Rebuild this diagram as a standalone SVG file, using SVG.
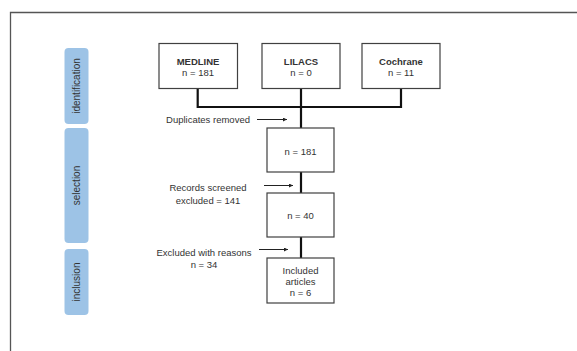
<svg xmlns="http://www.w3.org/2000/svg" width="577" height="351" viewBox="0 0 577 351">
<defs>
<marker id="arr" viewBox="0 0 6 6" refX="6" refY="3" markerWidth="4" markerHeight="4" orient="auto" markerUnits="userSpaceOnUse">
<path d="M0,0 L6,3 L0,6 z" fill="#222"/>
</marker>
<style>
.box{fill:#fff;stroke:#404040;stroke-width:1.2}
.tab{fill:#9dc3e6}
.t{font-family:"Liberation Sans","Open Sans",sans-serif;font-size:9.5px;fill:#333;text-anchor:middle}
.b{font-weight:bold}
.tt{font-family:"Liberation Sans","Open Sans",sans-serif;font-size:10px;fill:#333;text-anchor:middle}
.c{fill:none;stroke:#111;stroke-width:2.2}
.a{fill:none;stroke:#222;stroke-width:1}
</style>
</defs>
<rect width="577" height="351" fill="#fff"/>
<path d="M10.5,351 V12.5 H577" fill="none" stroke="#555" stroke-width="1.3"/>
<g id="tab-identification">
<rect class="tab" x="64.5" y="48" width="24" height="76" rx="4"/>
<text class="tt" transform="translate(80,86) rotate(-90)">identification</text>
</g>
<g id="tab-selection">
<rect class="tab" x="64.5" y="128" width="24" height="115" rx="4"/>
<text class="tt" transform="translate(80,185.5) rotate(-90)">selection</text>
</g>
<g id="tab-inclusion">
<rect class="tab" x="64.5" y="249" width="24" height="66" rx="4"/>
<text class="tt" transform="translate(80,282) rotate(-90)">inclusion</text>
</g>
<g id="connectors">
<path class="c" d="M197.7,88 V107 H401 V88"/>
<path class="c" d="M301,88 V128"/>
<path class="c" d="M301,172 V193"/>
<path class="c" d="M301,237 V258"/>
<line class="a" x1="257" y1="119.5" x2="287" y2="119.5" marker-end="url(#arr)"/>
<line class="a" x1="264" y1="185.5" x2="293" y2="185.5" marker-end="url(#arr)"/>
<line class="a" x1="259" y1="249.5" x2="288" y2="249.5" marker-end="url(#arr)"/>
</g>
<g id="medline">
<rect class="box" x="159" y="43.5" width="78.5" height="45"/>
<text class="t b" x="198" y="64.5">MEDLINE</text>
<text class="t" x="198" y="75.5">n = 181</text>
</g>
<g id="lilacs">
<rect class="box" x="262" y="43.5" width="78" height="45"/>
<text class="t b" x="301" y="64.5">LILACS</text>
<text class="t" x="301" y="75.5">n = 0</text>
</g>
<g id="cochrane">
<rect class="box" x="362" y="43.5" width="78" height="45"/>
<text class="t b" x="401" y="64.5">Cochrane</text>
<text class="t" x="401" y="75.5">n = 11</text>
</g>
<g id="n181">
<rect class="box" x="267" y="128" width="67" height="44"/>
<text class="t" x="300.5" y="155">n = 181</text>
</g>
<g id="n40">
<rect class="box" x="267" y="193" width="67" height="44"/>
<text class="t" x="300.5" y="218.5">n = 40</text>
</g>
<g id="included">
<rect class="box" x="267" y="258" width="67" height="45"/>
<text class="t" x="300.5" y="273.5">Included</text>
<text class="t" x="300.5" y="284.5">articles</text>
<text class="t" x="300.5" y="296">n = 6</text>
</g>
<g id="labels">
<text class="t" x="208" y="123">Duplicates removed</text>
<text class="t" x="208" y="191">Records screened</text>
<text class="t" x="208" y="204">excluded = 141</text>
<text class="t" x="204" y="255.5">Excluded with reasons</text>
<text class="t" x="204" y="268">n = 34</text>
</g>
</svg>
